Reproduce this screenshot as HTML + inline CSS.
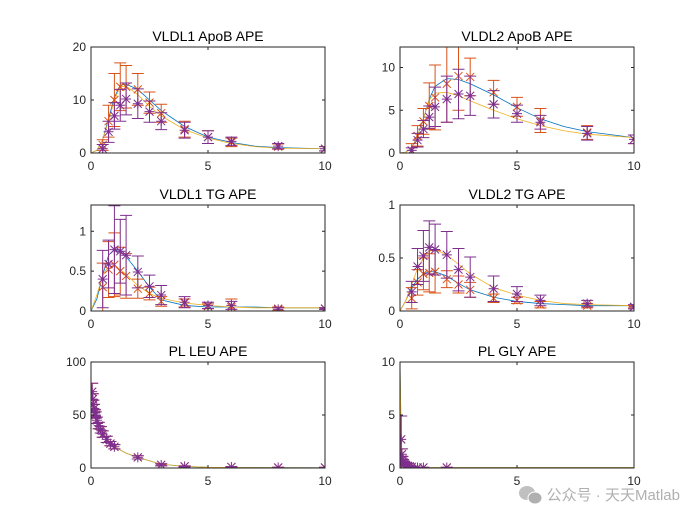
<!DOCTYPE html>
<html><head><meta charset="utf-8"><style>
body{margin:0;background:#fff;}
svg{display:block;font-family:"Liberation Sans",Arial,sans-serif;}
</style></head><body>
<svg id="fig" width="700" height="525"></svg>
<script>
const tA=[0.5,0.75,1,1.25,1.5,2,2.5,3,4,5,6,8,10];
const p1Red=[1.5,6,10,12.5,12.5,12,9.5,7.5,4.5,3,2,1.2,0.8];
const p1RedErr=[1,3,5,4.5,4,3,2,1.7,1.5,1.2,0.8,0.5,0.4];
const p1Pur=[0.8,4,7,9,10.2,9.3,7.8,6,4.3,3,2.2,1.3,0.8];
const p1PurErr=[0.8,2,2.5,3,3,2.8,2,1.6,1.5,1.2,0.8,0.5,0.4];
const p2Red=[0.3,2,3.7,5.5,6.5,8.1,9,8.9,7.1,5.4,3.8,2.4,1.6];
const p2RedErr=[0.8,1.2,1.5,2.7,3.8,4.5,4,2.2,1.4,1.1,1.4,0.8,0.5];
const p2Pur=[0.3,1.5,2.8,4.2,5.4,6.3,6.9,6.7,5.7,4.6,3.6,2.3,1.6];
const p2PurErr=[0.3,0.8,1,1.3,2.3,2.7,2.9,2.3,1.6,1,0.8,0.8,0.5];
const p3Red=[0.3,0.52,0.58,0.5,0.44,0.28,0.22,0.12,0.1,0.06,0.05,0.03,0.03];
const p3RedErr=[0.3,0.35,0.4,0.3,0.28,0.12,0.08,0.06,0.05,0.03,0.1,0.02,0.01];
const p3Pur=[0.4,0.59,0.77,0.75,0.7,0.49,0.31,0.2,0.11,0.07,0.07,0.02,0.03];
const p3PurErr=[0.36,0.3,0.55,0.4,0.5,0.2,0.14,0.12,0.07,0.04,0.05,0.02,0.01];
const p4Red=[0.12,0.27,0.35,0.36,0.37,0.3,0.25,0.2,0.12,0.1,0.06,0.05,0.04];
const p4RedErr=[0.1,0.12,0.15,0.18,0.2,0.08,0.08,0.07,0.04,0.03,0.03,0.02,0.01];
const p4Pur=[0.18,0.42,0.52,0.6,0.58,0.53,0.39,0.32,0.21,0.16,0.1,0.07,0.04];
const p4PurErr=[0.1,0.17,0.24,0.25,0.24,0.22,0.2,0.19,0.12,0.07,0.05,0.03,0.02];
const tLeu=[0.05,0.08,0.1,0.13,0.17,0.2,0.25,0.33,0.42,0.5,0.67,0.83,1,2,3,4,6,8,10];
const leuVals=[72,65,60,56,52,50,45,40,36,32,27,23,20,10,3,1.5,1,0.5,0.5];
const leuErr=[8,5,4,4,3,3,3,3,3,3,3,2,2,1.5,1,0.5,0.3,0.2,0.2];
const tGly=[0.05,0.08,0.1,0.13,0.17,0.2,0.25,0.33,0.42,0.5,0.75,1,2];
const glyVals=[2.7,1.3,0.8,0.6,0.5,0.4,0.3,0.2,0.15,0.1,0.05,0.05,0.05];
const glyErr=[2.2,0.5,0.3,0.2,0.1,0.1,0.1,0.05,0.05,0.05,0.02,0.02,0.02];
const tModel=[0,0.25,0.5,0.75,1,1.25,1.5,2,2.5,3,4,5,6,7,8,10];
const m1Blue=[0,0.5,2.5,6.5,10.5,12.8,13,12,10,8,5,3,2,1.3,1,0.8];
const m1Yel=[0,0.5,2.5,6,10,12.5,12.6,11,8.8,7,4.4,2.8,1.8,1.2,0.9,0.8];
const m2Blue=[0,0.1,0.6,2,4,6.3,7.8,8.7,8.6,8.1,6.8,5.3,4,3.1,2.5,1.8];
const m2Yel=[0,0.1,0.6,2,4,6.2,7,7.1,6.7,6.1,5,4,3.2,2.6,2.2,1.8];
const m3Blue=[0,0.15,0.45,0.7,0.77,0.74,0.68,0.5,0.3,0.14,0.07,0.05,0.05,0.05,0.04,0.04];
const m3Yel=[0,0.2,0.45,0.56,0.56,0.52,0.46,0.32,0.22,0.16,0.1,0.07,0.05,0.04,0.04,0.04];
const m4Blue=[0,0.1,0.22,0.3,0.35,0.37,0.37,0.33,0.26,0.2,0.13,0.09,0.07,0.06,0.05,0.05];
const m4Yel=[0,0.1,0.25,0.4,0.5,0.57,0.58,0.53,0.44,0.35,0.22,0.15,0.1,0.07,0.06,0.05];
const tModelPl=[0,0.05,0.1,0.2,0.3,0.5,0.75,1,1.5,2,3,4,5,6,8,10];
const mLeu=[80,72,62,50,43,33,26,20,14,10,3.5,1.5,0.7,0.5,0.3,0.2];
const mGly=[10,2.7,0.9,0.4,0.25,0.1,0.06,0.05,0.05,0.05,0.05,0.05,0.05,0.05,0.05,0.05];
const titles=["VLDL1 ApoB APE","VLDL2 ApoB APE","VLDL1 TG APE","VLDL2 TG APE","PL LEU APE","PL GLY APE"];
const yMax=[20,12.4,1.33,1,100,10];
const yTicks=[[0,10,20],[0,5,10],[0,0.5,1],[0,0.5,1],[0,50,100],[0,5,10]];
const xTicks=[0,5,10];

const NS="http://www.w3.org/2000/svg";
const svg=document.getElementById('fig');
function mk(tag,at,parent){const e=document.createElementNS(NS,tag);for(const k in at)e.setAttribute(k,at[k]);(parent||svg).appendChild(e);return e;}
const RED="#D95319",PUR="#7E2F8E",BLUE="#0072BD",YEL="#EDB120";
const boxes=[[91,47],[400,47],[91,205],[400,205],[91,362],[400,362]];
const W=234,H=106;
const panels=[
 {ser:[[tA,p1Red,p1RedErr,RED,'x'],[tA,p1Pur,p1PurErr,PUR,'*']],lines:[[tModel,m1Blue,BLUE],[tModel,m1Yel,YEL]]},
 {ser:[[tA,p2Red,p2RedErr,RED,'x'],[tA,p2Pur,p2PurErr,PUR,'*']],lines:[[tModel,m2Blue,BLUE],[tModel,m2Yel,YEL]]},
 {ser:[[tA,p3Red,p3RedErr,RED,'x'],[tA,p3Pur,p3PurErr,PUR,'*']],lines:[[tModel,m3Blue,BLUE],[tModel,m3Yel,YEL]]},
 {ser:[[tA,p4Red,p4RedErr,RED,'x'],[tA,p4Pur,p4PurErr,PUR,'*']],lines:[[tModel,m4Blue,BLUE],[tModel,m4Yel,YEL]]},
 {ser:[[tLeu,leuVals,leuErr,RED,'x'],[tLeu,leuVals,leuErr,PUR,'*']],lines:[[tModelPl,mLeu,BLUE],[tModelPl,mLeu,YEL]]},
 {ser:[[tGly,glyVals,glyErr,RED,'x'],[tGly,glyVals,glyErr,PUR,'*']],lines:[[tModelPl,mGly,BLUE],[tModelPl,mGly,YEL]]}
];
panels.forEach((p,i)=>{
 const [x0,y0]=boxes[i];
 const g=mk('g',{});
 
 
 const sx=v=>x0+v/10*W, sy=v=>y0+H-Math.min(v,yMax[i])/yMax[i]*H;
 const clipId='c'+i;
 const cp=mk('clipPath',{id:clipId},g);mk('rect',{x:x0,y:y0,width:W,height:H},cp);
 const t=mk('text',{x:x0+W/2,y:y0-6,'text-anchor':'middle','font-size':14,fill:'#000'},g);t.textContent=titles[i];
 
 
 const plot=mk('g',{'clip-path':'url(#'+clipId+')'},g);
 p.lines.forEach(([tx,ty,c])=>{
  const l=mk('polyline',{points:tx.map((v,k)=>sx(v)+','+sy(ty[k])).join(' '),fill:'none',stroke:c,'stroke-width':0.8},plot);
  
  
 });
 p.ser.forEach(([tx,ty,te,c,m])=>{
  tx.forEach((v,k)=>{
   const X=sx(v),Y=sy(ty[k]),Yt=sy(ty[k]+te[k]),Yb=sy(Math.max(0,ty[k]-te[k]));
   const eb=mk('path',{d:`M${X},${Yt}V${Yb}M${X-6},${Yt}h12M${X-6},${Yb}h12`,stroke:c,'stroke-width':1,fill:'none'},plot);
   
   
   let d=`M${X-4},${Y-4}L${X+4},${Y+4}M${X-4},${Y+4}L${X+4},${Y-4}`;
   if(m==='*')d+=`M${X-5},${Y}h10M${X},${Y-5}v10`;
   const mkr=mk('path',{d:d,stroke:c,'stroke-width':1,fill:'none'},plot);
   
   
  });
 });
 mk('rect',{x:x0,y:y0,width:W,height:H,fill:'none',stroke:'#262626','stroke-width':1},g);
 xTicks.forEach(v=>{
  mk('path',{d:`M${sx(v)},${y0+H}v-3M${sx(v)},${y0}v3`,stroke:'#262626'},g);
  const tt=mk('text',{x:sx(v),y:y0+H+17,'text-anchor':'middle','font-size':12,fill:'#262626'},g);tt.textContent=v;
  
  
 });
 yTicks[i].forEach(v=>{
  mk('path',{d:`M${x0},${sy(v)}h3M${x0+W},${sy(v)}h-3`,stroke:'#262626'},g);
  const tt=mk('text',{x:x0-5,y:sy(v)+4,'text-anchor':'end','font-size':12,fill:'#262626'},g);tt.textContent=v;
  
  
 });
});
const wm=mk('text',{x:680,y:500,'text-anchor':'end','font-size':15,fill:'#b0b0b0','font-family':'"Liberation Sans","Noto Sans CJK SC",sans-serif'});
wm.textContent="公众号 · 天天Matlab";


const ic=mk('g',{});


mk('ellipse',{cx:527,cy:493,rx:8,ry:7,fill:'#c0c0c0'},ic);
mk('ellipse',{cx:535,cy:498,rx:7,ry:6,fill:'#b0b0b0',stroke:'#fff','stroke-width':1},ic);
</script>
</body></html>
